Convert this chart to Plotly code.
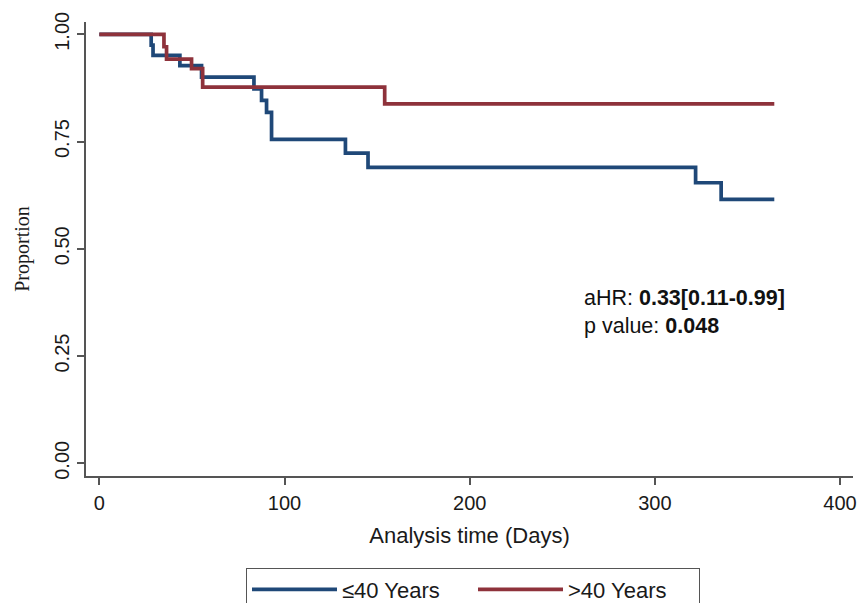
import plotly.graph_objects as go

# ---- data ----
young_days = [0, 28, 29, 43.5, 55.2, 83.5, 87.6, 90.3, 93, 132.9, 145.1, 322, 335.8, 364.5]
young_surv = [1.0, 0.975, 0.951, 0.927, 0.90, 0.873, 0.846, 0.818, 0.755, 0.723, 0.690, 0.654, 0.615, 0.615]

old_days = [0, 34.9, 36.3, 49.8, 55.8, 154.1, 364.5]
old_surv = [1.0, 0.971, 0.942, 0.920, 0.877, 0.838, 0.838]

series_names = ["≤40 Years", ">40 Years"]
x_ticks = [0, 100, 200, 300, 400]
y_ticks = [0, 0.25, 0.5, 0.75, 1.0]
y_tick_text = ["0.00", "0.25", "0.50", "0.75", "1.00"]

BLUE = "#1f4878"
RED = "#8e323b"
AXIS = "#555555"
TXT = "#1a1a1a"

fig = go.Figure()
fig.add_trace(go.Scatter(x=young_days, y=young_surv, mode="lines", name=series_names[0],
                         line=dict(color=BLUE, width=3.7, shape="hv")))
fig.add_trace(go.Scatter(x=old_days, y=old_surv, mode="lines", name=series_names[1],
                         line=dict(color=RED, width=3.7, shape="hv")))

fig.add_annotation(x=260.4, y=0.352, xref="x", yref="y", xanchor="left", yanchor="middle",
                   align="left", showarrow=False,
                   text="aHR: <b>0.33[0.11-0.99]</b><br>p value: <b>0.048</b>",
                   font=dict(family="Liberation Sans, Arial", size=21.5, color="#111111"))

fig.update_layout(
    width=861, height=603,
    margin=dict(l=86, r=8, t=22, b=127, autoexpand=False),
    paper_bgcolor="white", plot_bgcolor="white",
    font=dict(family="Liberation Sans, Arial", color=TXT),
    showlegend=True,
    legend=dict(orientation="h", x=0.2086, xanchor="left", y=-0.2018, yanchor="top",
                bordercolor=AXIS, borderwidth=1, itemwidth=85, entrywidth=126,
                font=dict(size=22, color=TXT), bgcolor="white"),
)
fig.update_xaxes(range=[-7.2, 407], tickvals=x_ticks, showgrid=False, zeroline=False,
                 automargin=False,
                 showline=True, linecolor=AXIS, linewidth=1.5,
                 ticks="outside", ticklen=7, tickcolor=AXIS, tickwidth=1.5,
                 tickfont=dict(size=20, color=TXT), ticklabelstandoff=1,
                 title=dict(text="Analysis time (Days)", font=dict(size=22, color=TXT), standoff=15))
fig.update_yaxes(range=[-0.0296, 1.0287], tickvals=y_ticks, ticktext=y_tick_text, tickangle=-90,
                 showgrid=False, zeroline=False, automargin=False,
                 showline=True, linecolor=AXIS, linewidth=1.5,
                 ticks="outside", ticklen=7, tickcolor=AXIS, tickwidth=1.5,
                 tickfont=dict(size=20, color=TXT),
                 title=dict(text="Proportion", font=dict(size=20, color=TXT,
                            family="Liberation Serif, Times New Roman"), standoff=16))

fig.write_html("out.html", config={"displayModeBar": False},
               post_script="document.body.style.margin='0px';document.body.style.overflow='hidden';")
